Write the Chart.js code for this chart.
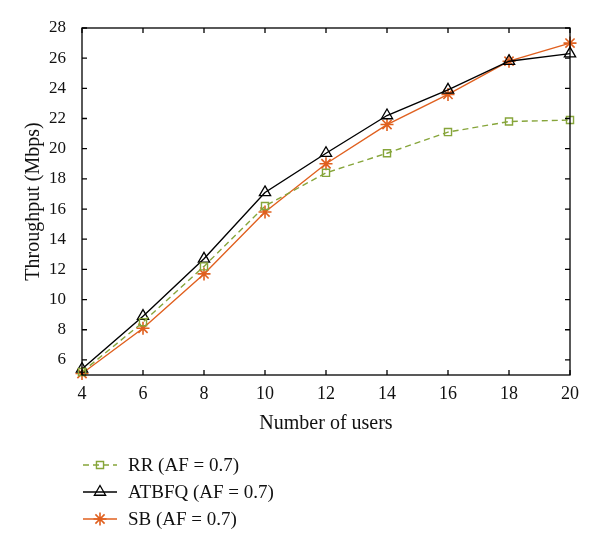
<!DOCTYPE html>
<html>
<head>
<meta charset="utf-8">
<script src="https://cdn.jsdelivr.net/npm/chart.js@4"></script>
<style>
    html, body { margin: 0; padding: 0; background: #fff; }
</style>
</head>
<body>
<canvas id="throughputChart" width="600" height="550"></canvas>
<script>
// Data
const users = [4, 6, 8, 10, 12, 14, 16, 18, 20];
const rrValues = [5.2, 8.5, 12.2, 16.2, 18.4, 19.7, 21.1, 21.8, 21.9];
const atbfqValues = [5.4, 8.9, 12.7, 17.1, 19.7, 22.2, 23.9, 25.8, 26.3];
const sbValues = [5.1, 8.1, 11.7, 15.8, 19.0, 21.6, 23.6, 25.8, 27.0];
const seriesNames = ['RR (AF = 0.7)', 'ATBFQ (AF = 0.7)', 'SB (AF = 0.7)'];
const xTicks = [4, 6, 8, 10, 12, 14, 16, 18, 20];
const yTicks = [6, 8, 10, 12, 14, 16, 18, 20, 22, 24, 26, 28];

const serif = "'Liberation Serif', 'DejaVu Serif', serif";

function toPoints(values) {
    return users.map((u, i) => ({ x: u, y: values[i] }));
}

// inward tick marks on all four sides + box frame
const frameTicks = {
    id: 'frameTicks',
    afterDraw(chart) {
        const { ctx, chartArea: a, scales } = chart;
        const len = 5;
        ctx.save();
        ctx.strokeStyle = '#000';
        ctx.lineWidth = 1.3;
        ctx.strokeRect(a.left, a.top, a.right - a.left, a.bottom - a.top);
        ctx.beginPath();
        xTicks.forEach(v => {
            const px = scales.x.getPixelForValue(v);
            ctx.moveTo(px, a.bottom); ctx.lineTo(px, a.bottom - len);
            ctx.moveTo(px, a.top); ctx.lineTo(px, a.top + len);
        });
        yTicks.forEach(v => {
            const py = scales.y.getPixelForValue(v);
            ctx.moveTo(a.left, py); ctx.lineTo(a.left + len, py);
            ctx.moveTo(a.right, py); ctx.lineTo(a.right - len, py);
        });
        ctx.stroke();
        ctx.restore();
    }
};

// legend under the plot: line sample + marker + label
const bottomLegend = {
    id: 'bottomLegend',
    afterDraw(chart) {
        const ctx = chart.ctx;
        ctx.save();
        chart.data.datasets.forEach((ds, i) => {
            const y = 465 + i * 27;
            ctx.strokeStyle = ds.borderColor;
            ctx.lineWidth = ds.borderWidth;
            ctx.setLineDash(ds.borderDash || []);
            ctx.beginPath();
            ctx.moveTo(83, y);
            ctx.lineTo(117, y);
            ctx.stroke();
            ctx.setLineDash([]);
            ctx.fillStyle = ds.pointBackgroundColor;
            ctx.strokeStyle = ds.pointBorderColor;
            ctx.lineWidth = ds.pointBorderWidth;
            Chart.helpers.drawPoint(ctx, {
                pointStyle: ds.pointStyle,
                radius: ds.pointRadius,
                borderWidth: ds.pointBorderWidth,
                rotation: 0
            }, 100, y);
            ctx.fillStyle = '#111';
            ctx.font = '19px ' + serif;
            ctx.textBaseline = 'middle';
            ctx.fillText(ds.label, 128, y + 1);
        });
        ctx.restore();
    }
};

const green = '#86a53a';
const orange = '#e0601f';

new Chart(document.getElementById('throughputChart'), {
    type: 'line',
    data: {
        datasets: [
            {
                label: seriesNames[0],
                data: toPoints(rrValues),
                borderColor: green,
                borderWidth: 1.4,
                borderDash: [6, 4],
                pointStyle: 'rect',
                pointRadius: 5,
                pointBorderWidth: 1.4,
                pointBorderColor: green,
                pointBackgroundColor: 'rgba(0,0,0,0)',
                clip: false
            },
            {
                label: seriesNames[1],
                data: toPoints(atbfqValues),
                borderColor: '#000',
                borderWidth: 1.4,
                pointStyle: 'triangle',
                pointRadius: 6.5,
                pointBorderWidth: 1.3,
                pointBorderColor: '#000',
                pointBackgroundColor: 'rgba(0,0,0,0)',
                clip: false
            },
            {
                label: seriesNames[2],
                data: toPoints(sbValues),
                borderColor: orange,
                borderWidth: 1.4,
                pointStyle: 'star',
                pointRadius: 6.5,
                pointBorderWidth: 1.6,
                pointBorderColor: orange,
                pointBackgroundColor: orange,
                clip: false
            }
        ]
    },
    options: {
        responsive: false,
        animation: false,
        layout: { padding: { top: 28, right: 30, bottom: 110, left: 0 } },
        plugins: {
            legend: { display: false },
            tooltip: { enabled: false }
        },
        scales: {
            x: {
                type: 'linear',
                min: 4,
                max: 20,
                afterBuildTicks: axis => { axis.ticks = xTicks.map(v => ({ value: v })); },
                afterFit: axis => { axis.height = 65; },
                grid: { display: false },
                border: { display: false },
                ticks: { color: '#111', font: { family: serif, size: 18 }, padding: 0 },
                title: {
                    display: true,
                    text: 'Number of users',
                    color: '#111',
                    font: { family: serif, size: 20 },
                    padding: { top: 2 }
                }
            },
            y: {
                min: 5,
                max: 28,
                afterBuildTicks: axis => { axis.ticks = yTicks.map(v => ({ value: v })); },
                afterFit: axis => { axis.width = 82; },
                grid: { display: false },
                border: { display: false },
                ticks: { color: '#111', font: { family: serif, size: 17 }, padding: 8 },
                title: {
                    display: true,
                    text: 'Throughput (Mbps)',
                    color: '#111',
                    font: { family: serif, size: 20 },
                    padding: { top: 22, bottom: 0 }
                }
            }
        }
    },
    plugins: [frameTicks, bottomLegend]
});
</script>
</body>
</html>
